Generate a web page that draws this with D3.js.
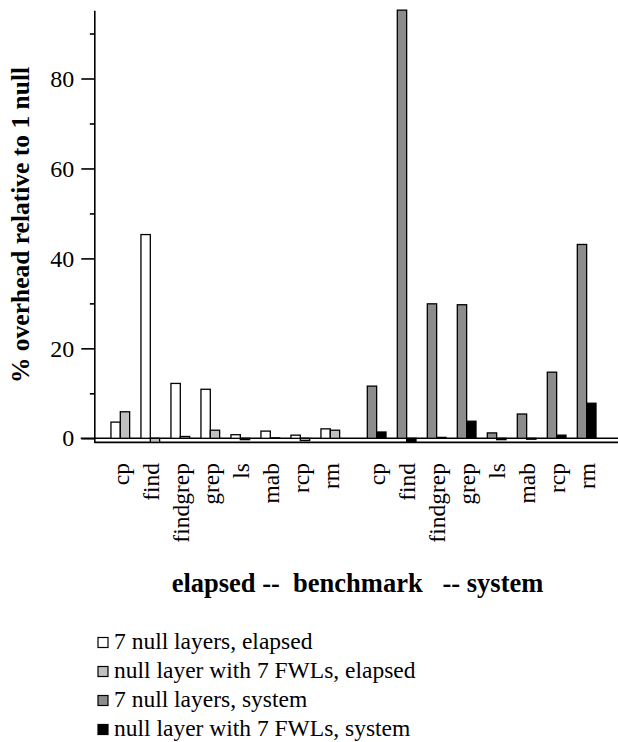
<!DOCTYPE html>
<html>
<head>
<meta charset="utf-8">
<script src="https://cdn.jsdelivr.net/npm/d3@7"></script>
<style>
  body { margin: 0; background: #fff; }
  text { font-family: "Liberation Serif", "Times New Roman", serif; fill: #000; }
</style>
</head>
<body>
<div id="chart"></div>
<script>
// benchmark names and the four series (% overhead relative to 1 null)
var benchmarks = ["cp", "find", "findgrep", "grep", "ls", "mab", "rcp", "rm"];
var elapsedNull7 = [3.6, 45.3, 12.2, 10.9, 0.8, 1.6, 0.7, 2.1];
var elapsedFwl7  = [5.9, -0.9, 0.4, 1.8, -0.3, 0.1, -0.5, 1.8];
var systemNull7  = [11.6, 95.2, 29.9, 29.7, 1.2, 5.4, 14.7, 43.1];
var systemFwl7   = [1.4, -0.9, 0.2, 3.8, -0.3, -0.2, 0.7, 7.8];
var seriesNames = [
  "7 null layers, elapsed",
  "null layer with 7 FWLs, elapsed",
  "7 null layers, system",
  "null layer with 7 FWLs, system"
];
var yTicks = [0, 20, 40, 60, 80];
var yMinorTicks = [10, 30, 50, 70, 90];

var width = 618, height = 742;
var fills = ["#ffffff", "#c0c0c0", "#8c8c8c", "#000000"];

var svg = d3.select("#chart")
  .append("svg")
  .attr("width", width)
  .attr("height", height);

var y = d3.scaleLinear()
  .domain([0, 80])
  .range([438.3, 78.5]);
var yMin = -0.9, yMax = 95.2;

var axisX = 94.3;

// two blocks of benchmarks: elapsed on the left, system on the right
var xElapsed = d3.scaleBand()
  .domain(benchmarks)
  .range([105.3, 345.3])
  .paddingInner(0.377)
  .paddingOuter(0.1885);
var xSystem = xElapsed.copy().range([361.65, 601.65]);
var sub = d3.scaleBand()
  .domain([0, 1])
  .range([0, xElapsed.bandwidth()]);

var groups = [
  { x: xElapsed, series: [elapsedNull7, elapsedFwl7], colorIdx: [0, 1] },
  { x: xSystem, series: [systemNull7, systemFwl7], colorIdx: [2, 3] }
];

// zero line and bottom frame line
svg.append("line")
  .attr("x1", 80.7).attr("x2", width)
  .attr("y1", y(0)).attr("y2", y(0))
  .attr("stroke", "#000").attr("stroke-width", 1.6);
svg.append("line")
  .attr("x1", axisX).attr("x2", width)
  .attr("y1", y(yMin)).attr("y2", y(yMin))
  .attr("stroke", "#000").attr("stroke-width", 1.6);

// bars
groups.forEach(function(g) {
  g.series.forEach(function(values, s) {
    svg.append("g")
      .selectAll("rect")
      .data(benchmarks)
      .join("rect")
      .attr("x", function(d) { return g.x(d) + sub(s); })
      .attr("y", function(d, i) { return y(Math.max(0, values[i])); })
      .attr("width", sub.bandwidth())
      .attr("height", function(d, i) { return Math.abs(y(values[i]) - y(0)); })
      .attr("fill", fills[g.colorIdx[s]])
      .attr("stroke", "#000")
      .attr("stroke-width", 1.3);
  });

  // benchmark labels, rotated
  svg.append("g")
    .selectAll("text")
    .data(benchmarks)
    .join("text")
    .attr("transform", function(d) {
      return "translate(" + (g.x(d) + g.x.bandwidth() / 2) + ",463) rotate(-90)";
    })
    .attr("dy", "0.35em")
    .attr("text-anchor", "end")
    .style("font-size", "23.5px")
    .text(function(d) { return d; });
});

// y axis
var yAxisScale = y.copy().domain([yMin, yMax]).range([y(yMin), y(yMax)]);
var yAxis = d3.axisLeft(yAxisScale)
  .tickValues(yTicks)
  .tickSize(13)
  .tickSizeOuter(0)
  .tickPadding(7);
var gy = svg.append("g")
  .attr("transform", "translate(" + axisX + ",0)")
  .call(yAxis);
gy.select(".domain").attr("stroke-width", 1.6);
gy.selectAll(".tick line").attr("stroke-width", 1.6);
gy.selectAll(".tick text")
  .style("font-family", "'Liberation Serif', serif")
  .style("font-size", "24px");

svg.append("g")
  .attr("transform", "translate(" + axisX + ",0)")
  .call(d3.axisLeft(yAxisScale).tickValues(yMinorTicks).tickSize(4.5).tickFormat(""))
  .call(function(s) { s.select(".domain").remove(); })
  .selectAll(".tick line").attr("stroke-width", 1.6);

// axis titles
svg.append("text")
  .attr("transform", "translate(29,225) rotate(-90)")
  .attr("text-anchor", "middle")
  .style("font-size", "25.5px")
  .style("font-weight", "bold")
  .text("% overhead relative to 1 null");

svg.append("text")
  .attr("x", 357.5)
  .attr("y", 592)
  .attr("text-anchor", "middle")
  .style("font-size", "26.5px")
  .style("font-weight", "bold")
  .style("white-space", "pre")
  .text("elapsed --  benchmark   -- system");

// legend
var legend = svg.append("g")
  .selectAll("g")
  .data(seriesNames)
  .join("g")
  .attr("transform", function(d, i) { return "translate(0," + (649 + i * 29) + ")"; });
legend.append("rect")
  .attr("x", 98)
  .attr("y", -11.5)
  .attr("width", 10)
  .attr("height", 10)
  .attr("fill", function(d, i) { return fills[i]; })
  .attr("stroke", "#000")
  .attr("stroke-width", 1.2);
legend.append("text")
  .attr("x", 114)
  .attr("y", 0)
  .style("font-size", "23.5px")
  .text(function(d) { return d; });
</script>
</body>
</html>
